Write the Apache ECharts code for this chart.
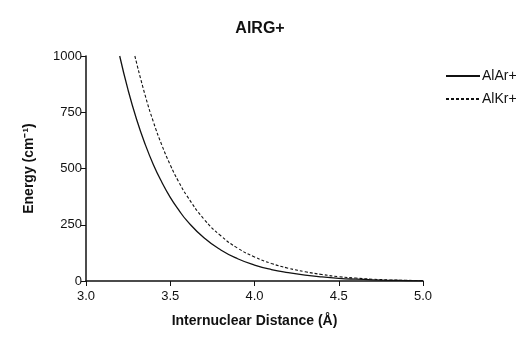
<!DOCTYPE html>
<html><head><meta charset="utf-8">
<script src="https://cdn.jsdelivr.net/npm/echarts@6/dist/echarts.min.js"></script>
<style>html,body{margin:0;padding:0;background:#fff}#c{width:527px;height:337px}</style>
</head><body><div id="c"></div>
<script>
const title = 'AlRG+';
const seriesNames = ['AlAr+', 'AlKr+'];
const rAr = [3.2, 3.25, 3.3, 3.35, 3.4, 3.45, 3.5, 3.55, 3.6, 3.7, 3.8, 3.9, 4.0, 4.1, 4.2, 4.3, 4.4, 4.5, 4.6, 4.7, 4.8, 4.9, 5.0];
const eAr = [1000, 848, 719, 610, 517, 439, 372, 316, 267, 192, 138, 99, 71, 51, 37, 26, 18, 12, 8, 5, 3, 2, 1];
const rKr = [3.29, 3.35, 3.4, 3.45, 3.5, 3.55, 3.6, 3.7, 3.8, 3.9, 4.0, 4.1, 4.2, 4.3, 4.4, 4.5, 4.6, 4.7, 4.8, 4.9, 5.0];
const eKr = [1000, 828, 707, 604, 516, 441, 377, 275, 201, 146, 107, 78, 57, 41, 29, 19, 13, 8, 5, 3, 2];
const xTicks = [3.0, 3.5, 4.0, 4.5, 5.0];
const yTicks = [0, 250, 500, 750, 1000];

const font = 'Liberation Sans, Arial, sans-serif';
const chart = echarts.init(document.getElementById('c'));
chart.setOption({
  animation: false,
  backgroundColor: '#fff',
  title: { text: title, left: 255, top: 16, textAlign: 'center',
    textStyle: { fontFamily: font, fontSize: 16, fontWeight: 'bold', color: '#111' } },
  legend: {
    orient: 'vertical', left: 440, top: 64, itemWidth: 34, itemHeight: 10, itemGap: 9,
    itemStyle: { opacity: 0 },
    textStyle: { fontFamily: font, fontSize: 14, color: '#111', padding: [0,0,0,-3] },
    data: seriesNames
  },
  grid: { left: 86, right: 104, top: 56, bottom: 56 },
  xAxis: {
    type: 'value', min: xTicks[0], max: xTicks[xTicks.length-1], interval: 0.5,
    name: 'Internuclear Distance (Å)', nameLocation: 'middle', nameGap: 33,
    nameTextStyle: { fontFamily: font, fontSize: 14, fontWeight: 'bold', color: '#111' },
    axisLine: { lineStyle: { color: '#111', width: 1.5 } },
    axisTick: { length: 5, lineStyle: { color: '#111' } },
    axisLabel: { fontFamily: font, fontSize: 13, color: '#111', margin: 9,
      formatter: v => v.toFixed(1) },
    splitLine: { show: false }
  },
  yAxis: {
    type: 'value', min: yTicks[0], max: yTicks[yTicks.length-1], interval: 250,
    name: 'Energy (cm⁻¹)', nameLocation: 'middle', nameGap: 50, nameRotate: 90,
    nameTextStyle: { fontFamily: font, fontSize: 14, fontWeight: 'bold', color: '#111' },
    axisLine: { show: true, lineStyle: { color: '#111', width: 1.5 } },
    axisTick: { show: true, length: 5, lineStyle: { color: '#111' } },
    axisLabel: { fontFamily: font, fontSize: 13, color: '#111', margin: 4,
      formatter: v => String(v) },
    splitLine: { show: false }
  },
  series: [
    { name: seriesNames[0], type: 'line', smooth: true, symbol: 'none',
      data: rAr.map((r, i) => [r, eAr[i]]),
      lineStyle: { color: '#111', width: 1.3, type: 'solid' }, itemStyle: { color: '#111' } },
    { name: seriesNames[1], type: 'line', smooth: true, symbol: 'none',
      data: rKr.map((r, i) => [r, eKr[i]]),
      lineStyle: { color: '#111', width: 1.1, type: [3, 2] }, itemStyle: { color: '#111' } }
  ]
});
</script></body></html>
